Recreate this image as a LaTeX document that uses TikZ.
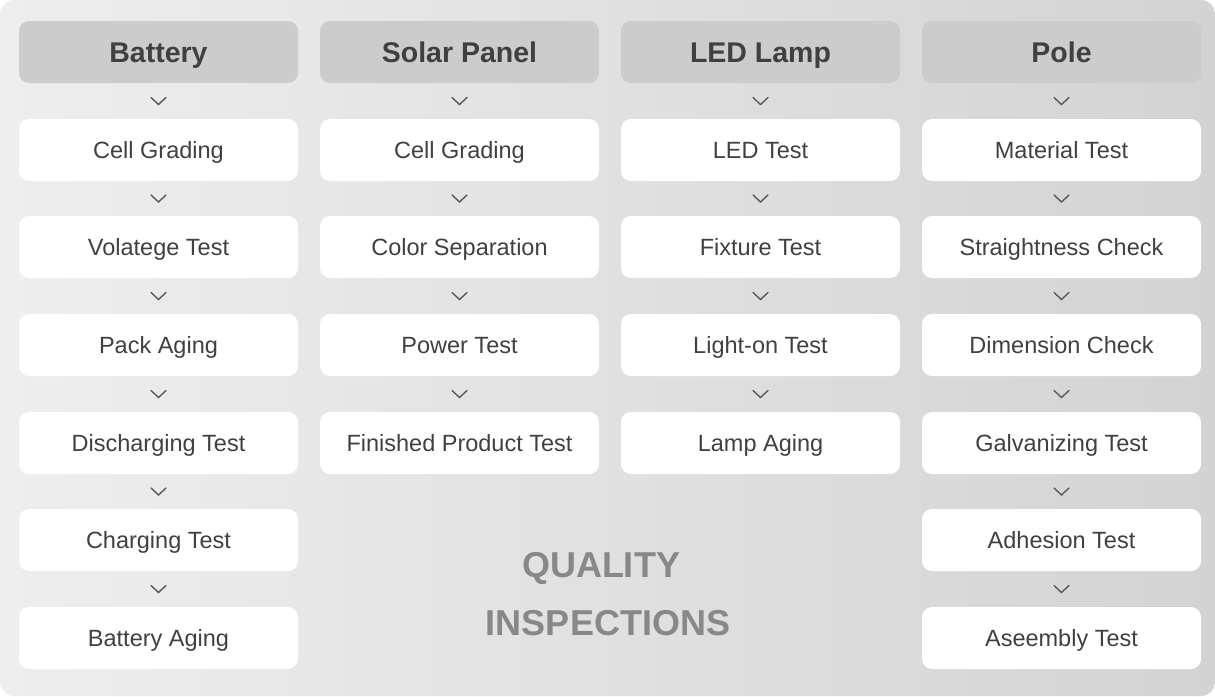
\documentclass[tikz,border=0pt]{standalone}
\usepackage{fontspec}
\setmainfont{Liberation Sans}
\usepackage{tikz}
\usetikzlibrary{calc}
\definecolor{bgleft}{HTML}{EEEEEE}
\definecolor{bgright}{HTML}{D3D3D3}
\definecolor{headfill}{HTML}{CCCCCC}
\definecolor{inktext}{HTML}{404040}
\definecolor{chevgray}{HTML}{5A5A5A}
\definecolor{titlegray}{HTML}{888888}
\tikzset{
	head/.style={rectangle,fill=headfill,rounded corners=10pt,minimum width=279pt,minimum height=62pt,inner sep=0pt,text=inktext,font=\fontsize{28.5}{30}\selectfont\bfseries,text height=20.4pt,text depth=0pt},
	stage/.style={rectangle,fill=white,rounded corners=10pt,minimum width=279pt,minimum height=62pt,inner sep=0pt,text=inktext,font=\fontsize{23.5}{26}\selectfont,text height=16.8pt,text depth=0pt},
	chev/.style={draw=chevgray,line width=1.4pt,line cap=round},
	banner/.style={inner sep=0pt,text=titlegray,font=\fontsize{36}{40}\selectfont\bfseries,text height=25.8pt,text depth=0pt}
}

\begin{document}
\begin{tikzpicture}[x=1pt,y=-1pt]
		\useasboundingbox (0,0) rectangle (1215,696);
		\shade[left color=bgleft,right color=bgright,rounded corners=14pt] (0,0) rectangle (1215,696);
		
		% battery
		\node[head] (bat) at (158.5,52) {Battery};
		\node[stage] (bat1) at ($(bat) + (0,98)$) {Cell Grading};
		\node[stage] (bat2) at ($(bat1) + (0,97)$) {Volatege Test};
		\node[stage] (bat3) at ($(bat2) + (0,98)$) {Pack Aging};
		\node[stage] (bat4) at ($(bat3) + (0,98)$) {Discharging Test};
		\node[stage] (bat5) at ($(bat4) + (0,97)$) {Charging Test};
		\node[stage] (bat6) at ($(bat5) + (0,98)$) {Battery Aging};
		
		% solar panel
		\node[head] (sol) at ($(bat) + (301,0)$) {Solar Panel};
		\node[stage] (sol1) at ($(sol) + (0,98)$) {Cell Grading};
		\node[stage] (sol2) at ($(sol1) + (0,97)$) {Color Separation};
		\node[stage] (sol3) at ($(sol2) + (0,98)$) {Power Test};
		\node[stage] (sol4) at ($(sol3) + (0,98)$) {Finished Product Test};
		
		% led lamp
		\node[head] (led) at ($(sol) + (301,0)$) {LED Lamp};
		\node[stage] (led1) at ($(led) + (0,98)$) {LED Test};
		\node[stage] (led2) at ($(led1) + (0,97)$) {Fixture Test};
		\node[stage] (led3) at ($(led2) + (0,98)$) {Light-on Test};
		\node[stage] (led4) at ($(led3) + (0,98)$) {Lamp Aging};
		
		% pole
		\node[head] (pol) at ($(led) + (301,0)$) {Pole};
		\node[stage] (pol1) at ($(pol) + (0,98)$) {Material Test};
		\node[stage] (pol2) at ($(pol1) + (0,97)$) {Straightness Check};
		\node[stage] (pol3) at ($(pol2) + (0,98)$) {Dimension Check};
		\node[stage] (pol4) at ($(pol3) + (0,98)$) {Galvanizing Test};
		\node[stage] (pol5) at ($(pol4) + (0,97)$) {Adhesion Test};
		\node[stage] (pol6) at ($(pol5) + (0,98)$) {Aseembly Test};
		
		\node[banner] (qual) at (601,565) {QUALITY};
		\node[banner] (insp) at (608,623) {INSPECTIONS};
		
		\draw[chev] ($(bat)!.5!(bat1)$) +(-7.5,-3.5) -- +(0,3.5) -- +(7.5,-3.5);
		\draw[chev] ($(bat1)!.5!(bat2)$) +(-7.5,-3.5) -- +(0,3.5) -- +(7.5,-3.5);
		\draw[chev] ($(bat2)!.5!(bat3)$) +(-7.5,-3.5) -- +(0,3.5) -- +(7.5,-3.5);
		\draw[chev] ($(bat3)!.5!(bat4)$) +(-7.5,-3.5) -- +(0,3.5) -- +(7.5,-3.5);
		\draw[chev] ($(bat4)!.5!(bat5)$) +(-7.5,-3.5) -- +(0,3.5) -- +(7.5,-3.5);
		\draw[chev] ($(bat5)!.5!(bat6)$) +(-7.5,-3.5) -- +(0,3.5) -- +(7.5,-3.5);
		
		\draw[chev] ($(sol)!.5!(sol1)$) +(-7.5,-3.5) -- +(0,3.5) -- +(7.5,-3.5);
		\draw[chev] ($(sol1)!.5!(sol2)$) +(-7.5,-3.5) -- +(0,3.5) -- +(7.5,-3.5);
		\draw[chev] ($(sol2)!.5!(sol3)$) +(-7.5,-3.5) -- +(0,3.5) -- +(7.5,-3.5);
		\draw[chev] ($(sol3)!.5!(sol4)$) +(-7.5,-3.5) -- +(0,3.5) -- +(7.5,-3.5);
		
		\draw[chev] ($(led)!.5!(led1)$) +(-7.5,-3.5) -- +(0,3.5) -- +(7.5,-3.5);
		\draw[chev] ($(led1)!.5!(led2)$) +(-7.5,-3.5) -- +(0,3.5) -- +(7.5,-3.5);
		\draw[chev] ($(led2)!.5!(led3)$) +(-7.5,-3.5) -- +(0,3.5) -- +(7.5,-3.5);
		\draw[chev] ($(led3)!.5!(led4)$) +(-7.5,-3.5) -- +(0,3.5) -- +(7.5,-3.5);
		
		\draw[chev] ($(pol)!.5!(pol1)$) +(-7.5,-3.5) -- +(0,3.5) -- +(7.5,-3.5);
		\draw[chev] ($(pol1)!.5!(pol2)$) +(-7.5,-3.5) -- +(0,3.5) -- +(7.5,-3.5);
		\draw[chev] ($(pol2)!.5!(pol3)$) +(-7.5,-3.5) -- +(0,3.5) -- +(7.5,-3.5);
		\draw[chev] ($(pol3)!.5!(pol4)$) +(-7.5,-3.5) -- +(0,3.5) -- +(7.5,-3.5);
		\draw[chev] ($(pol4)!.5!(pol5)$) +(-7.5,-3.5) -- +(0,3.5) -- +(7.5,-3.5);
		\draw[chev] ($(pol5)!.5!(pol6)$) +(-7.5,-3.5) -- +(0,3.5) -- +(7.5,-3.5);
		\end{tikzpicture}
\end{document}
